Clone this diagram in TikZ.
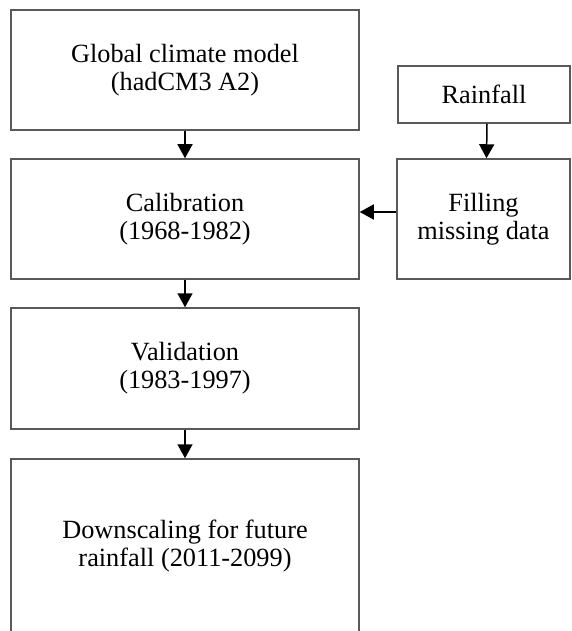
\documentclass[tikz,border=0pt]{standalone}
\usepackage{fontspec}
\setmainfont{Liberation Serif}
\usetikzlibrary{arrows.meta}

\tikzset{
  stage/.style={draw=black!65, line width=1.5pt, fill=white, align=center,
    inner sep=0pt, font=\fontsize{26.3}{28}\selectfont},
  flow/.style={line width=1.5pt, -{Triangle[width=15pt,length=14pt]}}
}

\begin{document}
\begin{tikzpicture}[x=1pt, y=-1pt]
    \clip (0,0) rectangle (571,631);
    \fill[white] (0,0) rectangle (571,631);
    \node[stage, minimum width=348pt, minimum height=120pt] (gcm) at (185,70) {Global climate model\\(hadCM3 A2)};
    \node[stage, minimum width=348pt, minimum height=120pt] (cal) at (185,219) {Calibration\\(1968-1982)};
    \node[stage, minimum width=348pt, minimum height=121pt] (val) at (185,368.5) {Validation\\(1983-1997)};
    \node[stage, minimum width=348pt, minimum height=174pt] (down) at (185,546) {Downscaling for future\\rainfall (2011-2099)};
    \node[stage, minimum width=172pt, minimum height=57pt] (rain) at (484,94.5) {Rainfall};
    \node[stage, minimum width=173pt, minimum height=120pt] (fill) at (483.5,219) {Filling\\missing data};
    \draw[flow] (gcm) -- (cal);
    \draw[flow] (cal) -- (val);
    \draw[flow] (val) -- (down);
    \draw[flow] ([xshift=3pt]rain.south) -- ([xshift=3pt]fill.north);
    \draw[flow] ([yshift=7pt]fill.west) -- ([yshift=7pt]cal.east);
\end{tikzpicture}
\end{document}
